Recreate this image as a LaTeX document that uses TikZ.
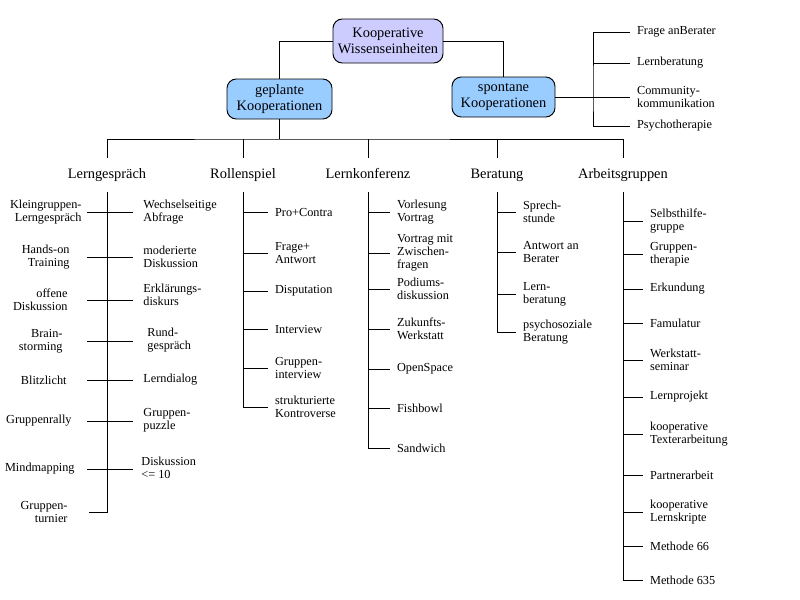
\documentclass[tikz,border=0pt]{standalone}
\usepackage{fontspec}
\setmainfont{Liberation Serif}
\usepackage{tikz}
\definecolor{wissfill}{RGB}{204,204,255}
\definecolor{koopfill}{RGB}{153,204,255}
\begin{document}
\begin{tikzpicture}[x=0.75pt, y=-0.75pt, line width=0.7pt,
    kbox/.style={draw, rounded corners=7pt, align=center, inner xsep=2pt,
      font=\fontsize{10.8}{12.4}\selectfont},
    cat/.style={font=\fontsize{10.8}{12}\selectfont, text height=8pt,
      text depth=2.5pt, inner ysep=7.1pt},
    item/.style={anchor=west, align=left, inner xsep=5pt, inner ysep=1pt,
      font=\fontsize{9.2}{9.8}\selectfont},
    litem/.style={item, anchor=east, align=right}]
      \useasboundingbox (0,0) rectangle (800,600);
      % top of the tree
      \node[kbox, fill=wissfill, minimum width=82.5pt, minimum height=33pt] (kw) at (388,41) {Kooperative\\Wissenseinheiten};
      \node[kbox, fill=koopfill, minimum width=78.75pt, minimum height=30pt] (gk) at (279.5,99) {geplante\\Kooperationen};
      \node[kbox, fill=koopfill, minimum width=77.25pt, minimum height=30pt] (spk) at (503.5,97) {spontane\\Kooperationen};
      \draw (kw.west) -| (gk.north);
      \draw (kw.east) -| (spk.north);
      % spontane Kooperationen
      \coordinate (sx) at (593,97);
      \node[item] (fab) at (630,32) {Frage anBerater};
      \node[item] (lbs) at (630,63) {Lernberatung};
      \node[item] (cko) at (630,97) {Community-\\kommunikation};
      \node[item] (pth) at (630,126) {Psychotherapie};
      \draw (spk.east) -- (sx);
      \draw (fab.west) -| (sx) |- (pth.west);
      \draw (sx |- lbs.west) -- (lbs.west);
      \draw (sx) -- (cko.west);
      % geplante Kooperationen
      \coordinate (bus) at (279.5,139);
      \node[cat] (lg) at (107,175) {Lerngespräch};
      \node[cat] (rs) at (243,175) {Rollenspiel};
      \node[cat] (lk) at (368,175) {Lernkonferenz};
      \node[cat] (be) at (497,175) {Beratung};
      \node[cat] (ag) at (623,175) {Arbeitsgruppen};
      \draw (gk.south) -- (bus);
      \draw (lg.north) |- (bus) -| (ag.north);
      \draw (rs.north) -- (rs.north |- bus);
      \draw (lk.north) -- (lk.north |- bus);
      \draw (be.north) -- (be.north |- bus);
      % Lerngespraech
      \node[litem] (kg) at (88.7,212) {Kleingruppen-\\Lerngespräch};
      \node[litem] (ho) at (76.7,257) {Hands-on\\Training};
      \node[litem] (od) at (74.7,300) {offene\\Diskussion};
      \node[litem] (bs) at (69.7,341) {Brain-\\storming};
      \node[litem] (bl) at (73.7,380) {Blitzlicht};
      \node[litem] (gr) at (78.7,421) {Gruppenrally};
      \node[litem] (mm) at (81.7,469) {Mindmapping};
      \node[litem] (gt) at (74.7,512) {Gruppen-\\turnier};
      \node[item] (wa) at (136.3,212) {Wechselseitige\\Abfrage};
      \node[item] (md) at (136.3,257) {moderierte\\Diskussion};
      \node[item] (ed) at (136.3,295) {Erklärungs-\\diskurs};
      \node[item] (rg) at (140.3,340) {Rund-\\gespräch};
      \node[item] (ld) at (136.3,380) {Lerndialog};
      \node[item] (gp) at (136.3,420) {Gruppen-\\puzzle};
      \node[item] (dk) at (134.3,468) {Diskussion\\<= 10};
      \draw (lg.south) -- (lg.south |- gt.east) -- ++(-18,0);
      \draw (lg.south |- kg.east) ++(-20,0) -- ++(46,0);
      \draw (lg.south |- ho.east) ++(-20,0) -- ++(46,0);
      \draw (lg.south |- od.east) ++(-20,0) -- ++(46,0);
      \draw (lg.south |- bs.east) ++(-20,0) -- ++(46,0);
      \draw (lg.south |- bl.east) ++(-20,0) -- ++(46,0);
      \draw (lg.south |- gr.east) ++(-20,0) -- ++(46,0);
      \draw (lg.south |- mm.east) ++(-20,0) -- ++(46,0);
      % Rollenspiel
      \node[item] (pc) at (268,212) {Pro+Contra};
      \node[item] (fa) at (268,253) {Frage+\\Antwort};
      \node[item] (dp) at (268,291) {Disputation};
      \node[item] (iv) at (268,329) {Interview};
      \node[item] (gi) at (268,368) {Gruppen-\\interview};
      \node[item] (skv) at (268,407) {strukturierte\\Kontroverse};
      \draw (rs.south) |- (skv.west);
      \draw (rs.south |- pc.west) -- (pc.west);
      \draw (rs.south |- fa.west) -- (fa.west);
      \draw (rs.south |- dp.west) -- (dp.west);
      \draw (rs.south |- iv.west) -- (iv.west);
      \draw (rs.south |- gi.west) -- (gi.west);
      % Lernkonferenz
      \node[item] (vv) at (390,212) {Vorlesung\\Vortrag};
      \node[item] (vz) at (390,253) {Vortrag mit\\Zwischen-\\fragen};
      \node[item] (pd) at (390,289) {Podiums-\\diskussion};
      \node[item] (zw) at (390,329) {Zukunfts-\\Werkstatt};
      \node[item] (os) at (390,369) {OpenSpace};
      \node[item] (fi) at (390,408) {Fishbowl};
      \node[item] (sw) at (390,448) {Sandwich};
      \draw (lk.south) |- (sw.west);
      \draw (lk.south |- vv.west) -- (vv.west);
      \draw (lk.south |- vz.west) -- (vz.west);
      \draw (lk.south |- pd.west) -- (pd.west);
      \draw (lk.south |- zw.west) -- (zw.west);
      \draw (lk.south |- os.west) -- (os.west);
      \draw (lk.south |- fi.west) -- (fi.west);
      % Beratung
      \node[item] (sp) at (516,212) {Sprech-\\stunde};
      \node[item] (aa) at (516,252) {Antwort an\\Berater};
      \node[item] (lbe) at (516,294) {Lern-\\beratung};
      \node[item] (ps) at (516,332) {psychosoziale\\Beratung};
      \draw (be.south) |- (ps.west);
      \draw (be.south |- sp.west) -- (sp.west);
      \draw (be.south |- aa.west) -- (aa.west);
      \draw (be.south |- lbe.west) -- (lbe.west);
      % Arbeitsgruppen
      \node[item] (sh) at (643,221) {Selbsthilfe-\\gruppe};
      \node[item] (gth) at (643,254) {Gruppen-\\therapie};
      \node[item] (er) at (643,289) {Erkundung};
      \node[item] (fm) at (643,323) {Famulatur};
      \node[item] (ws) at (643,360) {Werkstatt-\\seminar};
      \node[item] (lp) at (643,397) {Lernprojekt};
      \node[item] (kt) at (643,434) {kooperative\\Texterarbeitung};
      \node[item] (pa) at (643,475) {Partnerarbeit};
      \node[item] (kls) at (643,512) {kooperative\\Lernskripte};
      \node[item] (m66) at (643,546) {Methode 66};
      \node[item] (m635) at (643,580) {Methode 635};
      \draw (ag.south) |- (m635.west);
      \draw (ag.south |- sh.west) -- (sh.west);
      \draw (ag.south |- gth.west) -- (gth.west);
      \draw (ag.south |- er.west) -- (er.west);
      \draw (ag.south |- fm.west) -- (fm.west);
      \draw (ag.south |- ws.west) -- (ws.west);
      \draw (ag.south |- lp.west) -- (lp.west);
      \draw (ag.south |- kt.west) -- (kt.west);
      \draw (ag.south |- pa.west) -- (pa.west);
      \draw (ag.south |- kls.west) -- (kls.west);
      \draw (ag.south |- m66.west) -- (m66.west);
    \end{tikzpicture}
\end{document}
